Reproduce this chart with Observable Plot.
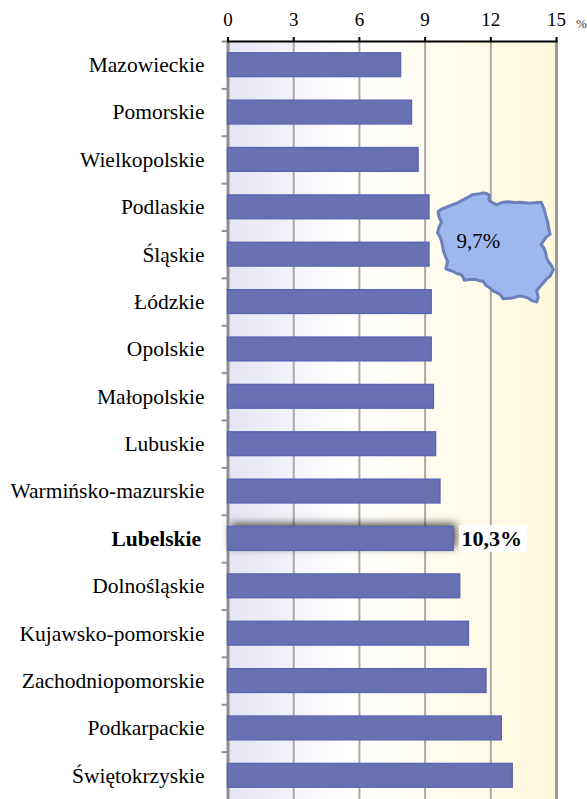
<!DOCTYPE html>
<html><head><meta charset="utf-8">
<script src="https://cdn.jsdelivr.net/npm/d3@7"></script>
<script src="https://cdn.jsdelivr.net/npm/@observablehq/plot@0.6"></script>
<style>html,body{margin:0;padding:0;background:#fff}#c{position:relative;width:587px;height:799px;overflow:hidden}#c svg{display:block}#m{position:absolute;left:434px;top:188px}</style>
</head><body><div id="c"></div>
<script>
const regions = ["Mazowieckie","Pomorskie","Wielkopolskie","Podlaskie","Śląskie","Łódzkie","Opolskie","Małopolskie","Lubuskie","Warmińsko-mazurskie","Lubelskie","Dolnośląskie","Kujawsko-pomorskie","Zachodniopomorskie","Podkarpackie","Świętokrzyskie"];
const rates = [7.9,8.4,8.7,9.2,9.2,9.3,9.3,9.4,9.5,9.7,10.3,10.6,11.0,11.8,12.5,13.0];
const xTicks = [0,3,6,9,12,15];
const highlight = "Lubelskie";
const highlightLabel = "10,3%";
const nationalLabel = "9,7%";
const polandOutline = [[14.26,53.87],[14.55,54.0],[14.92,54.09],[15.4,54.2],[15.93,54.32],[16.5,54.5],[16.85,54.6],[17.22,54.73],[17.7,54.75],[18.08,54.8],[18.4,54.78],[18.65,54.67],[18.6,54.5],[18.65,54.41],[19.22,54.23],[19.7,54.33],[20.23,54.37],[20.8,54.33],[21.37,54.35],[22.0,54.3],[22.52,54.32],[23.04,54.35],[23.2,54.15],[23.32,53.96],[23.45,53.65],[23.61,53.34],[23.7,53.0],[23.81,52.72],[23.5,52.6],[23.24,52.37],[23.04,52.19],[23.3,52.0],[23.44,51.75],[23.5,51.5],[23.67,51.3],[23.9,51.1],[24.1,50.86],[23.81,50.51],[23.5,50.35],[23.24,50.15],[22.9,49.9],[22.66,49.71],[22.8,49.35],[22.66,49.09],[22.3,49.15],[21.95,49.3],[21.5,49.4],[21.09,49.41],[20.7,49.32],[20.37,49.3],[19.8,49.27],[19.55,49.5],[19.22,49.62],[18.9,49.72],[18.65,49.89],[18.35,50.0],[18.08,50.24],[17.8,50.25],[17.5,50.33],[16.93,50.33],[16.5,50.29],[16.35,50.5],[16.21,50.6],[15.85,50.65],[15.5,50.77],[14.92,50.9],[15.07,51.3],[14.9,51.55],[14.72,51.84],[14.65,52.1],[14.55,52.37],[14.42,52.6],[14.21,52.81],[14.35,53.1],[14.55,53.34],[14.35,53.6],[14.26,53.87]];

const table = regions.map((region,i)=>({region,rate:rates[i]}));
const serif = "'Liberation Serif','Times New Roman',serif";
const barFill = "#6a71b3", barStroke = "#5b66b1";
const defs = () => {
  const ns = "http://www.w3.org/2000/svg";
  const d = document.createElementNS(ns,"defs");
  d.innerHTML = `<linearGradient id="bg" x1="0" x2="1" y1="0" y2="0">
    <stop offset="0" stop-color="#e5e5f3"/><stop offset="0.2" stop-color="#f3f3fa"/><stop offset="0.36" stop-color="#ffffff"/>
    <stop offset="0.55" stop-color="#fffdf4"/><stop offset="1" stop-color="#fff8dc"/></linearGradient>`;
  return d;
};
const step = 758/16;
const plot = Plot.plot({
  width:587,height:799,marginLeft:227.5,marginRight:31,marginTop:41,marginBottom:0,
  style:{fontFamily:serif,background:"transparent",overflow:"visible"},
  x:{domain:[0,15]},
  y:{domain:regions,paddingInner:0.5,paddingOuter:0.25,align:0.5,round:false,axis:null},
  marks:[
    defs,
    Plot.frame({fill:"url(#bg)",stroke:"none"}),
    Plot.gridX(xTicks.slice(1,-1),{stroke:"#a9a9a9",strokeWidth:2,strokeOpacity:1}),
    Plot.ruleX([15],{stroke:"#9a9a9a",strokeWidth:3}),
    Plot.ruleY(regions,{y:d=>d,x1:-0.27,x2:0,dy:-step/2,stroke:"#8f8f8f",strokeWidth:2}),
    Plot.barX(table.filter(d=>d.region===highlight),{x:"rate",y:"region",fill:barFill,imageFilter:"drop-shadow(3px -3px 4px rgba(40,40,30,.85))"}),
    Plot.ruleX([0],{stroke:"#8f8f8f",strokeWidth:3}),
    Plot.barX(table,{x:"rate",y:"region",fill:barFill,stroke:barStroke,strokeWidth:1.5}),
    Plot.barX(table.filter(d=>d.region===highlight),{x1:()=>10.57,x2:()=>13.68,y:"region",fill:"#fff",insetTop:-1.5,insetBottom:-1.5}),
    Plot.axisX({anchor:"top",ticks:xTicks,tickSize:5,tickPadding:11,fontSize:19,stroke:"#000",strokeWidth:2,fill:"#000",strokeOpacity:1,label:null,tickFormat:d=>String(d)}),
    Plot.frame({anchor:"top",stroke:"#000",strokeWidth:2}),
    Plot.text(["%"],{x:()=>15,frameAnchor:"top",dx:25,dy:-23,fontSize:13,fill:"#333"}),
    Plot.text(table.filter(d=>d.region!==highlight),{x:()=>0,y:"region",text:"region",dx:-23.5,textAnchor:"end",fontSize:21.5,fill:"#000"}),
    Plot.text(table.filter(d=>d.region===highlight),{x:()=>0,y:"region",text:"region",dx:-27,textAnchor:"end",fontSize:21.5,fontWeight:"bold",fill:"#000"}),
    Plot.text(table.filter(d=>d.region===highlight),{x:"rate",y:"region",text:()=>highlightLabel,dx:8,textAnchor:"start",fontSize:22,fontWeight:"bold",fill:"#000"}),
  ]
});
const feature = {type:"Feature",geometry:{type:"Polygon",coordinates:[polandOutline]}};
const map = Plot.plot({
  width:122,height:118,margin:0,
  style:{fontFamily:serif,background:"transparent",overflow:"visible"},
  projection:{type:"mercator",domain:feature,inset:3},
  marks:[
    Plot.geo([feature],{fill:"#9db8ec",stroke:"#6a80ba",strokeWidth:3,strokeLinejoin:"round"}),
    Plot.text([nationalLabel],{x:()=>17.7,y:()=>52.35,text:d=>d,fontSize:21,fill:"#000"})
  ]
});
map.id="m";
const c=document.getElementById("c");
c.appendChild(plot);c.appendChild(map);
</script></body></html>
